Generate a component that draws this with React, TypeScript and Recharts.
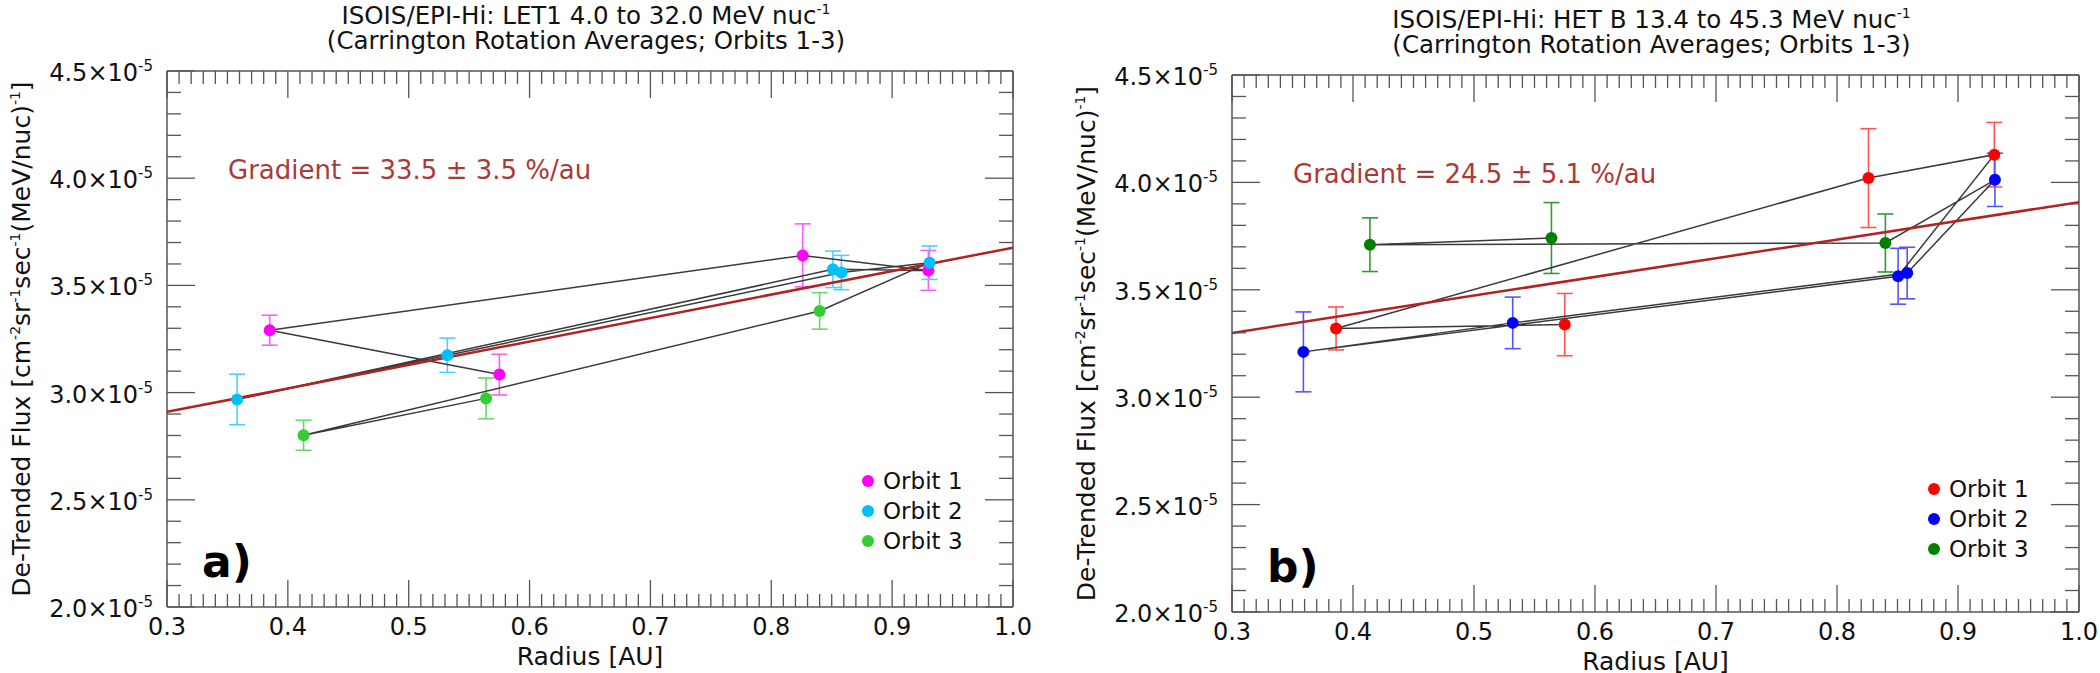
import React from "react";
import { ErrorBar, Label, Legend, Scatter, ScatterChart, XAxis, YAxis } from "recharts";

const FONT = "'DejaVu Sans', Verdana, sans-serif";
const AXIS = "#555555";

// panel a) LET1, points listed in the order the black line joins them
const letRadius = [0.575, 0.385, 0.826, 0.93, 0.851, 0.358, 0.532, 0.858, 0.931, 0.84, 0.413, 0.564];
const letFlux = [3.084, 3.291, 3.64, 3.57, 3.575, 2.968, 3.174, 3.56, 3.606, 3.381, 2.801, 2.973];
const letErr = [0.095, 0.07, 0.147, 0.093, 0.085, 0.118, 0.08, 0.08, 0.078, 0.085, 0.07, 0.095];
const letOrbit = [1, 1, 1, 1, 2, 2, 2, 2, 2, 3, 3, 3];
const letFitRadius = [0.3, 1.0];
const letFitFlux = [2.91, 3.676];

// panel b) HET B
const hetRadius = [0.575, 0.386, 0.826, 0.93, 0.8505, 0.359, 0.532, 0.858, 0.9305, 0.84, 0.414, 0.564];
const hetFlux = [3.338, 3.32, 4.02, 4.129, 3.563, 3.211, 3.346, 3.578, 4.012, 3.718, 3.71, 3.741];
const hetErr = [0.145, 0.1, 0.23, 0.15, 0.13, 0.186, 0.12, 0.12, 0.124, 0.135, 0.125, 0.165];
const hetOrbit = [1, 1, 1, 1, 2, 2, 2, 2, 2, 3, 3, 3];
const hetFitRadius = [0.3, 1.0];
const hetFitFlux = [3.299, 3.908];

const orbitNames = ["Orbit 1", "Orbit 2", "Orbit 3"];

const radiusMajor = [0.3, 0.4, 0.5, 0.6, 0.7, 0.8, 0.9, 1.0];
const radiusLabels = ["0.3", "0.4", "0.5", "0.6", "0.7", "0.8", "0.9", "1.0"];
const fluxMajor = [2.0, 2.5, 3.0, 3.5, 4.0, 4.5];
const fluxLabels = ["2.0", "2.5", "3.0", "3.5", "4.0", "4.5"];

function subdivide(major: number[], parts: number) {
  const out: number[] = [];
  for (let i = 0; i < major.length - 1; i++) {
    for (let k = 0; k < parts; k++) {
      out.push(Math.round((major[i] + ((major[i + 1] - major[i]) * k) / parts) * 1000) / 1000);
    }
  }
  out.push(major[major.length - 1]);
  return out;
}

const radiusTicks = subdivide(radiusMajor, 10);
const fluxTicks = subdivide(fluxMajor, 5);

const majorIndex = (list: number[], v: number) => list.findIndex((m) => Math.abs(m - v) < 1e-6);

function buildPoints(radius: number[], flux: number[], err: number[], orbit: number[]) {
  return radius.map((r, i) => ({ r, f: flux[i], err: err[i], orbit: orbit[i] }));
}

function buildFit(radius: number[], flux: number[]) {
  return radius.map((r, i) => ({ r, f: flux[i] }));
}

const BottomTick = (props: any) => {
  const { x, y, payload } = props;
  const idx = majorIndex(radiusMajor, payload.value);
  return (
    <g>
      <line x1={x} x2={x} y1={y} y2={y - (idx >= 0 ? 27 : 13)} stroke={AXIS} strokeWidth={1.3} />
      {idx >= 0 && (
        <text x={x} y={y + 28} textAnchor="middle" fontSize={24} fontFamily={FONT} fill="#111">
          {radiusLabels[idx]}
        </text>
      )}
    </g>
  );
};

const TopTick = (props: any) => {
  const { x, y, payload } = props;
  const major = majorIndex(radiusMajor, payload.value) >= 0;
  return <line x1={x} x2={x} y1={y} y2={y + (major ? 27 : 13)} stroke={AXIS} strokeWidth={1.3} />;
};

const LeftTick = (props: any) => {
  const { x, y, payload } = props;
  const idx = majorIndex(fluxMajor, payload.value);
  return (
    <g>
      <line x1={x} x2={x + (idx >= 0 ? 28 : 14)} y1={y} y2={y} stroke={AXIS} strokeWidth={1.3} />
      {idx >= 0 && (
        <text x={x - 14} y={y + 10} textAnchor="end" fontSize={24} fontFamily={FONT} fill="#111">
          {fluxLabels[idx]}×10
          <tspan dy={-10} fontSize={15}>-5</tspan>
        </text>
      )}
    </g>
  );
};

const RightTick = (props: any) => {
  const { x, y, payload } = props;
  const major = majorIndex(fluxMajor, payload.value) >= 0;
  return <line x1={x} x2={x - (major ? 28 : 14)} y1={y} y2={y} stroke={AXIS} strokeWidth={1.3} />;
};

const dotShape = (props: any) => <circle cx={props.cx} cy={props.cy} r={6} fill={props.fill} />;
const noShape = () => <g />;

type PanelProps = {
  instrument: string;
  gradient: string;
  letter: string;
  points: { r: number; f: number; err: number; orbit: number }[];
  fit: { r: number; f: number }[];
  colors: string[];
  errColors: string[];
  margin: { top: number; right: number; bottom: number; left: number };
  legendPos: { left: number; top: number };
};

function Panel({ instrument, gradient, letter, points, fit, colors, errColors, margin, legendPos }: PanelProps) {
  // top axis is 1px tall, so its box bottom is the plot top
  const renderTitle = (p: any) => {
    const vb = p.viewBox;
    const top = vb.y + vb.height;
    const cx = vb.x + vb.width / 2 - 4;
    return (
      <g fontFamily={FONT}>
        <text x={cx} y={top - 47} textAnchor="middle" fontSize={24.5} fill="#111">
          {instrument} MeV nuc
          <tspan dy={-10} fontSize={14}>-1</tspan>
        </text>
        <text x={cx} y={top - 22} textAnchor="middle" fontSize={24.5} fill="#111">
          (Carrington Rotation Averages; Orbits 1-3)
        </text>
        <text x={vb.x + 61} y={top + 108} fontSize={26} fill="#a83a3a">
          {gradient}
        </text>
      </g>
    );
  };

  const renderBottom = (p: any) => {
    const vb = p.viewBox;
    return (
      <g fontFamily={FONT}>
        <text x={vb.x + vb.width / 2} y={vb.y + 58} textAnchor="middle" fontSize={25} fill="#111">
          Radius [AU]
        </text>
        <text x={vb.x + 35} y={vb.y - 30} fontSize={44} fontWeight="bold" fill="#000">
          {letter}
        </text>
      </g>
    );
  };

  const renderYTitle = (p: any) => {
    const vb = p.viewBox;
    return (
      <text
        transform={`translate(${vb.x + 23}, ${vb.y + vb.height / 2}) rotate(-90)`}
        textAnchor="middle"
        fontSize={25}
        fontFamily={FONT}
        fill="#111"
      >
        De-Trended Flux [cm
        <tspan dy={-10} fontSize={14}>-2</tspan>
        <tspan dy={10}>sr</tspan>
        <tspan dy={-10} fontSize={14}>-1</tspan>
        <tspan dy={10}>sec</tspan>
        <tspan dy={-10} fontSize={14}>-1</tspan>
        <tspan dy={10}>(MeV/nuc)</tspan>
        <tspan dy={-10} fontSize={14}>-1</tspan>
        <tspan dy={10}>]</tspan>
      </text>
    );
  };

  const renderLegend = (p: any) => (
    <div style={{ fontFamily: FONT }}>
      {(p.payload || []).map((e: any) => (
        <div key={e.value} style={{ display: "flex", alignItems: "center", height: 30 }}>
          <span style={{ width: 12, height: 12, borderRadius: "50%", background: e.color, display: "inline-block" }} />
          <span style={{ marginLeft: 9, fontSize: 23, color: "#111", whiteSpace: "nowrap" }}>{e.value}</span>
        </div>
      ))}
    </div>
  );

  return (
    <ScatterChart width={1050} height={673} margin={margin}>
      <XAxis
        type="number"
        dataKey="r"
        domain={[0.3, 1.0]}
        ticks={radiusTicks}
        interval={0}
        allowDataOverflow
        height={30}
        tickLine={false}
        tickSize={0}
        tickMargin={0}
        tick={BottomTick}
        axisLine={{ stroke: AXIS, strokeWidth: 1.5 }}
      >
        <Label content={renderBottom} />
      </XAxis>
      <XAxis
        xAxisId="top"
        orientation="top"
        type="number"
        dataKey="r"
        domain={[0.3, 1.0]}
        ticks={radiusTicks}
        interval={0}
        allowDataOverflow
        height={1}
        tickLine={false}
        tickSize={0}
        tickMargin={0}
        tick={TopTick}
        axisLine={{ stroke: AXIS, strokeWidth: 1.5 }}
      >
        <Label content={renderTitle} />
      </XAxis>
      <YAxis
        type="number"
        dataKey="f"
        domain={[2.0, 4.5]}
        ticks={fluxTicks}
        interval={0}
        allowDataOverflow
        width={160}
        tickLine={false}
        tickSize={0}
        tickMargin={0}
        tick={LeftTick}
        axisLine={{ stroke: AXIS, strokeWidth: 1.5 }}
      >
        <Label content={renderYTitle} />
      </YAxis>
      <YAxis
        yAxisId="right"
        orientation="right"
        type="number"
        dataKey="f"
        domain={[2.0, 4.5]}
        ticks={fluxTicks}
        interval={0}
        allowDataOverflow
        width={1}
        tickLine={false}
        tickSize={0}
        tickMargin={0}
        tick={RightTick}
        axisLine={{ stroke: AXIS, strokeWidth: 1.5 }}
      />
      <Legend
        layout="vertical"
        align="center"
        verticalAlign="middle"
        content={renderLegend}
        wrapperStyle={{ left: legendPos.left, top: legendPos.top, width: 140 }}
      />
      <Scatter
        data={points}
        line={{ stroke: "#3a3a3a", strokeWidth: 1.5 }}
        lineType="joint"
        shape={noShape}
        fill="none"
        legendType="none"
        isAnimationActive={false}
      />
      <Scatter
        data={fit}
        xAxisId="top"
        yAxisId="right"
        line={{ stroke: "#b22222", strokeWidth: 2.5 }}
        lineType="joint"
        shape={noShape}
        fill="none"
        legendType="none"
        isAnimationActive={false}
      />
      {orbitNames.map((name, i) => (
        <Scatter
          key={name}
          name={name}
          data={points.filter((p) => p.orbit === i + 1)}
          fill={colors[i]}
          shape={dotShape}
          isAnimationActive={false}
        >
          <ErrorBar dataKey="err" direction="y" width={8} stroke={errColors[i]} strokeWidth={1.6} />
        </Scatter>
      ))}
    </ScatterChart>
  );
}

export default function App() {
  return (
    <div style={{ position: "absolute", left: 0, top: 0, width: 2100, height: 673, background: "#fff" }}>
      <div style={{ position: "absolute", left: 0, top: 0 }}>
        <Panel
          instrument="ISOIS/EPI-Hi: LET1 4.0 to 32.0"
          gradient="Gradient = 33.5 ± 3.5 %/au"
          letter="a)"
          points={buildPoints(letRadius, letFlux, letErr, letOrbit)}
          fit={buildFit(letFitRadius, letFitFlux)}
          colors={["#ff00ff", "#00bfff", "#33cc33"]}
          errColors={["#ff5cff", "#4dcfff", "#66d966"]}
          margin={{ top: 70, right: 36, bottom: 36, left: 7 }}
          legendPos={{ left: 862, top: 466 }}
        />
      </div>
      <div style={{ position: "absolute", left: 1050, top: 0 }}>
        <Panel
          instrument="ISOIS/EPI-Hi: HET B 13.4 to 45.3"
          gradient="Gradient = 24.5 ± 5.1 %/au"
          letter="b)"
          points={buildPoints(hetRadius, hetFlux, hetErr, hetOrbit)}
          fit={buildFit(hetFitRadius, hetFitFlux)}
          colors={["#ff0000", "#0000ff", "#007f00"]}
          errColors={["#ff5555", "#5555ff", "#339933"]}
          margin={{ top: 74, right: 20, bottom: 31, left: 22 }}
          legendPos={{ left: 878, top: 474 }}
        />
      </div>
    </div>
  );
}
